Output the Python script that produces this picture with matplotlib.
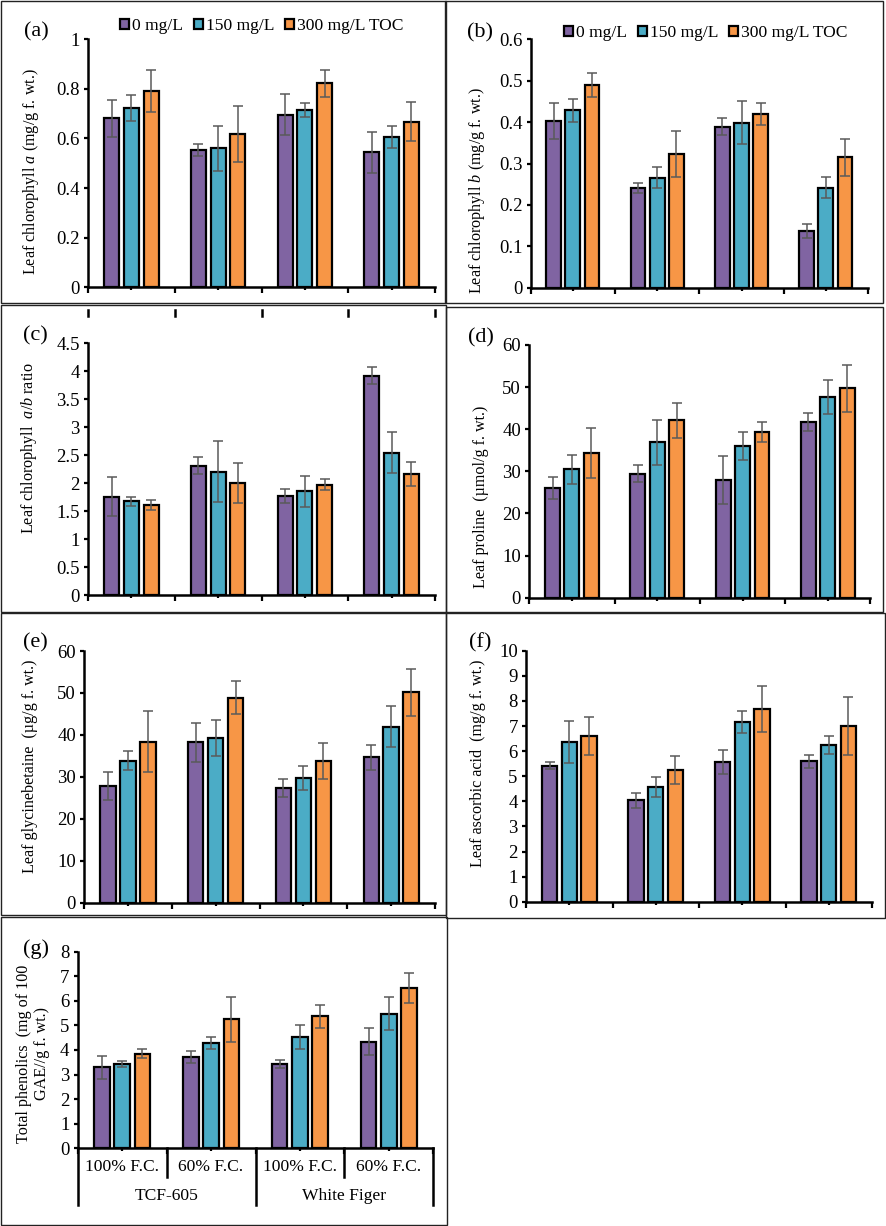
import numpy as np
import matplotlib.pyplot as plt
from matplotlib.patches import Patch, Rectangle
from matplotlib.lines import Line2D
from matplotlib.ticker import FuncFormatter

plt.rcParams['font.family'] = 'Liberation Serif'
plt.rcParams['mathtext.fontset'] = 'custom'
plt.rcParams['mathtext.rm'] = 'Liberation Serif'
plt.rcParams['mathtext.it'] = 'Liberation Serif:italic'

W, H = 886, 1226

series = ['0 mg/L', '150 mg/L', '300 mg/L TOC']
colors = ['#8064A2', '#4BACC6', '#F79646']
water = ['100% F.C.', '60% F.C.', '100% F.C.', '60% F.C.']
cultivars = ['TCF-605', 'White Figer']

# rows = series (0, 150, 300 mg/L), columns = groups
chl_a = [[0.681, 0.554, 0.696, 0.544], [0.722, 0.560, 0.714, 0.606], [0.792, 0.617, 0.823, 0.667]]
chl_a_err = [[0.076, 0.025, 0.083, 0.082], [0.053, 0.091, 0.028, 0.046], [0.085, 0.113, 0.054, 0.079]]

chl_b = [[0.403, 0.2415, 0.389, 0.137], [0.429, 0.266, 0.399, 0.242], [0.490, 0.323, 0.419, 0.315]]
chl_b_err = [[0.043, 0.012, 0.021, 0.016], [0.028, 0.026, 0.052, 0.025], [0.029, 0.055, 0.027, 0.044]]

ab_ratio = [[1.76, 2.31, 1.77, 3.92], [1.675, 2.205, 1.853, 2.545], [1.603, 1.996, 1.973, 2.157]]
ab_ratio_err = [[0.35, 0.155, 0.128, 0.155], [0.086, 0.54, 0.277, 0.364], [0.089, 0.358, 0.104, 0.212]]

proline = [[26.05, 29.45, 27.95, 41.7], [30.48, 36.9, 36.0, 47.7], [34.44, 42.1, 39.35, 49.7]]
proline_err = [[2.57, 1.94, 5.7, 2.1], [3.48, 5.3, 3.25, 4.1], [5.94, 4.16, 2.45, 5.6]]

glyb = [[27.9, 38.2, 27.35, 34.66], [33.86, 39.2, 29.7, 41.97], [38.4, 48.9, 33.7, 50.16]]
glyb_err = [[3.34, 4.6, 2.1, 3.0], [2.23, 4.3, 2.8, 4.9], [7.2, 4.0, 4.3, 5.64]]

ascorbic = [[5.42, 4.04, 5.55, 5.59], [6.37, 4.57, 7.16, 6.23], [6.6, 5.25, 7.68, 7.0]]
ascorbic_err = [[0.15, 0.31, 0.48, 0.27], [0.84, 0.4, 0.44, 0.36], [0.74, 0.56, 0.92, 1.14]]

phenol = [[3.29, 3.70, 3.42, 4.34], [3.43, 4.27, 4.54, 5.48], [3.85, 5.25, 5.37, 6.51]]
phenol_err = [[0.47, 0.24, 0.16, 0.56], [0.12, 0.24, 0.49, 0.66], [0.18, 0.91, 0.47, 0.61]]

fig = plt.figure(figsize=(W / 100, H / 100), dpi=100)


def px_rect(x0, x1, ytop, y0):
    return [x0 / W, 1 - y0 / H, (x1 - x0) / W, (y0 - ytop) / H]


def fig_box(x0, y0, x1, y1):
    fig.patches.append(Rectangle((x0 / W, 1 - y1 / H), (x1 - x0) / W, (y1 - y0) / H,
                                 transform=fig.transFigure, fill=False,
                                 edgecolor='#222222', lw=1.0))


def panel(rect, vals, errs, yticks, ylabel, ylab_xy, tag, tag_xy):
    ax = fig.add_axes(px_rect(*rect))
    x = np.arange(4) + 0.5
    offs = [-0.228, 0.0, 0.228]
    for i in range(3):
        ax.bar(x + offs[i], vals[i], width=0.175, color=colors[i],
               edgecolor='black', linewidth=1.6, zorder=2)
        ax.errorbar(x + offs[i], vals[i], yerr=errs[i], fmt='none',
                    ecolor='#5a5a5a', elinewidth=1.1, capsize=3.5,
                    capthick=1.1, zorder=3)
    ax.set_xlim(0, 4)
    ax.set_ylim(yticks[0], yticks[-1])
    ax.set_yticks(yticks)
    ax.yaxis.set_major_formatter(FuncFormatter(lambda v, p: '{:g}'.format(round(v, 3))))
    ax.set_xticks([0, 1, 2, 3, 4])
    ax.set_xticks(x, minor=True)
    ax.set_xticklabels([])
    ax.tick_params(axis='x', which='major', direction='out', length=4, width=1.6)
    ax.tick_params(axis='x', which='minor', direction='out', length=2.5, width=1.6)
    ax.tick_params(axis='y', direction='out', length=3, width=1.6, labelsize=13.5, pad=3)
    for s in ['top', 'right']:
        ax.spines[s].set_visible(False)
    for s in ['left', 'bottom']:
        ax.spines[s].set_linewidth(1.8)
    fig.text(ylab_xy[0] / W, 1 - ylab_xy[1] / H, ylabel, rotation=90,
             ha='center', va='center', fontsize=11.6, multialignment='center',
             linespacing=1.2)
    fig.text(tag_xy[0] / W, 1 - tag_xy[1] / H, tag, ha='left', va='center', fontsize=16)
    return ax


def legend(x, y):
    handles = [Patch(facecolor=c, edgecolor='black', linewidth=1.6) for c in colors]
    fig.legend(handles, series, loc='center left', bbox_to_anchor=(x / W, 1 - y / H),
               ncol=3, frameon=False, handlelength=0.5, handleheight=0.5,
               handletextpad=0.2, columnspacing=0.6, fontsize=12.6,
               borderpad=0, borderaxespad=0)


# panel boxes
fig_box(0.5, 0.5, 446, 303)
fig_box(445, 0.5, 883, 303)
fig_box(0.5, 305, 446, 612)
fig_box(446, 307, 883, 612)
fig_box(0.5, 613, 446, 915)
fig_box(446, 613, 885, 918)
fig_box(0.5, 917, 447, 1225)

panel((88, 435, 39.3, 287.3), chl_a, chl_a_err, np.arange(0, 1.01, 0.2),
      'Leaf chlorophyll $\\mathit{a}$ (mg/g f. wt.)', (31, 172), '(a)', (24, 32))
panel((530.7, 868, 39.3, 287.7), chl_b, chl_b_err, np.arange(0, 0.61, 0.1),
      'Leaf chlorophyll $\\mathit{b}$ (mg/g f. wt.)', (477, 191), '(b)', (467, 33))
panel((88, 435, 343.3, 595), ab_ratio, ab_ratio_err, np.arange(0, 4.51, 0.5),
      'Leaf chlorophyll  $\\mathit{a/b}$ ratio', (29, 448), '(c)', (23, 336))
panel((529.3, 870.5, 345, 597.7), proline, proline_err, np.arange(0, 61, 10),
      'Leaf proline  (µmol/g f. wt.)', (481, 497), '(d)', (468, 338))
panel((84.3, 435, 651, 902.7), glyb, glyb_err, np.arange(0, 61, 10),
      'Leaf glycinebetaine  (µg/g f. wt.)', (30, 766), '(e)', (23, 643))
panel((526, 872, 650.7, 901.7), ascorbic, ascorbic_err, np.arange(0, 11, 1),
      'Leaf ascorbic acid  (mg/g f. wt.)', (478, 763), '(f)', (469, 643))
axg = panel((77.7, 433.3, 951.7, 1148.3), phenol, phenol_err, np.arange(0, 9, 1),
            'Total phenolics  (mg of 100\nGAE//g f. wt.)', (33, 1054), '(g)', (23, 949))

# two-level category axis on (g)
tr = axg.get_xaxis_transform()
for i, lab in enumerate(water):
    axg.text(i + 0.5, -0.095, lab, transform=tr, ha='center', va='center', fontsize=12.6)
for i, lab in enumerate(cultivars):
    axg.text(2 * i + 1, -0.245, lab, transform=tr, ha='center', va='center', fontsize=12.6)
for b in [0, 2, 4]:
    axg.plot([b, b], [0, -0.29], transform=tr, clip_on=False, color='black', lw=1.8)
for b in [1, 3]:
    axg.plot([b, b], [0, -0.147], transform=tr, clip_on=False, color='black', lw=1.8)

# stray tick marks along top of panel (c)
for xp in [88, 175, 262, 348, 435]:
    fig.lines.append(Line2D([xp / W, xp / W], [1 - 310 / H, 1 - 316 / H],
                            transform=fig.transFigure, color='black', lw=1.8))

legend(120, 26)
legend(564, 33)

fig.savefig('out.png', dpi=100)
